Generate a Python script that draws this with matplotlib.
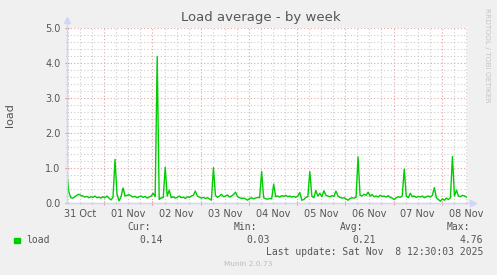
import datetime as dt
import matplotlib
matplotlib.use("Agg")
from matplotlib import pyplot as plt
import matplotlib.dates as mdates
from matplotlib.ticker import MultipleLocator

# hourly load averages, starting Oct 31 05:20
start = dt.datetime(2025, 10, 31, 5, 20)
load = [
    0.90, 0.32, 0.15, 0.14, 0.18, 0.22, 0.25, 0.22, 0.20, 0.17, 0.19, 0.15, 0.18, 0.16, 0.20, 0.15, 0.17, 0.14, 0.18, 0.15, 0.20, 0.14, 0.09, 0.16,
    1.25, 0.25, 0.06, 0.18, 0.43, 0.20, 0.22, 0.24, 0.20, 0.17, 0.19, 0.15, 0.18, 0.20, 0.16, 0.19, 0.14, 0.17, 0.20, 0.28, 0.18, 4.19, 0.10, 0.15,
    0.15, 1.02, 0.20, 0.37, 0.15, 0.18, 0.14, 0.16, 0.20, 0.15, 0.17, 0.13, 0.18, 0.16, 0.20, 0.22, 0.34, 0.20, 0.17, 0.14, 0.16, 0.13, 0.15, 0.12,
    0.08, 1.01, 0.22, 0.16, 0.20, 0.25, 0.18, 0.20, 0.23, 0.17, 0.20, 0.24, 0.31, 0.18, 0.15, 0.13, 0.14, 0.12, 0.08, 0.13, 0.15, 0.12, 0.14, 0.16,
    0.15, 0.90, 0.15, 0.12, 0.11, 0.13, 0.12, 0.54, 0.18, 0.20, 0.17, 0.21, 0.19, 0.22, 0.18, 0.20, 0.17, 0.19, 0.16, 0.20, 0.30, 0.08, 0.10, 0.16,
    0.18, 0.90, 0.20, 0.15, 0.36, 0.20, 0.28, 0.18, 0.35, 0.22, 0.20, 0.18, 0.21, 0.19, 0.34, 0.20, 0.16, 0.14, 0.15, 0.12, 0.08, 0.13, 0.15, 0.14,
    0.16, 1.32, 0.22, 0.20, 0.25, 0.22, 0.31, 0.20, 0.24, 0.18, 0.20, 0.17, 0.22, 0.19, 0.20, 0.17, 0.21, 0.16, 0.14, 0.10, 0.15, 0.18, 0.16, 0.20,
    0.97, 0.20, 0.15, 0.28, 0.18, 0.20, 0.16, 0.19, 0.17, 0.20, 0.15, 0.18, 0.20, 0.17, 0.22, 0.44, 0.15, 0.10, 0.05, 0.12, 0.08, 0.14, 0.10, 0.15,
    1.33, 0.20, 0.37, 0.20, 0.18, 0.22, 0.20, 0.17,
]
times = [start + dt.timedelta(hours=i) for i in range(len(load))]

day_labels = ["31 Oct", "01 Nov", "02 Nov", "03 Nov", "04 Nov", "05 Nov", "06 Nov", "07 Nov", "08 Nov"]
label_days = [dt.datetime(2025, 10, 31, 12) + dt.timedelta(days=i) for i in range(len(day_labels))]

series = "load"
cur, vmin, avg, vmax = "0.14", "0.03", "0.21", "4.76"
last_update = "Last update: Sat Nov  8 12:30:03 2025"

W, H = 497, 275
FONT = "#555555"
AXIS = "#CFD6F8"


def px(x, y):
    return x / W, 1 - y / H


fig = plt.figure(figsize=(W / 100, H / 100), dpi=100, facecolor="#F0F0F0")
ax = fig.add_axes([66.7 / W, 1 - 203 / H, 400.3 / W, 174.7 / H])
ax.set_facecolor("white")

ax.plot(times, load, color="#00CC00", lw=1.0, zorder=3)

ax.set_xlim(dt.datetime(2025, 10, 31, 5, 17), dt.datetime(2025, 11, 8, 12, 35))
ax.set_ylim(0, 5)

ax.xaxis.set_major_locator(mdates.DayLocator())
ax.xaxis.set_minor_locator(mdates.HourLocator(byhour=[6, 12, 18]))
ax.xaxis.set_major_formatter(plt.NullFormatter())
ax.yaxis.set_major_locator(MultipleLocator(1.0))
ax.yaxis.set_minor_locator(MultipleLocator(0.2))
ax.yaxis.set_major_formatter(plt.FormatStrFormatter("%.1f"))

ax.grid(which="minor", color="#CDCDCD", lw=0.8, ls=(0, (1, 2)), zorder=1)
ax.grid(which="major", color="#E6A3A3", lw=0.8, ls=(0, (1, 2)), zorder=2)

ax.tick_params(which="major", length=3, width=0.8, color="#E09090", direction="inout",
               labelsize=7, labelcolor=FONT, pad=3)
ax.tick_params(which="minor", length=2, width=0.8, color="#BBBBBB", direction="inout")

for s in ax.spines.values():
    s.set_visible(False)

# axes with arrows
ax.plot([0, 0], [0, 1.04], transform=ax.transAxes, color=AXIS, lw=1, clip_on=False, zorder=4)
ax.plot([0, 1.012], [0, 0], transform=ax.transAxes, color=AXIS, lw=1, clip_on=False, zorder=4)
ax.plot([0], [1.045], transform=ax.transAxes, marker="^", ms=4, color=AXIS, clip_on=False)
ax.plot([1.015], [0], transform=ax.transAxes, marker=">", ms=4, color=AXIS, clip_on=False)

tr = ax.get_xaxis_transform()
for d, lab in zip(label_days, day_labels):
    ax.text(d, -0.035, lab, transform=tr, ha="center", va="top", fontsize=7, color=FONT)

fig.text(*px(10, 115), "load", rotation=90, ha="center", va="center", fontsize=8, color=FONT)

fig.text(*px(261, 18), "Load average - by week", ha="center", va="center", fontsize=9.5, color=FONT)
fig.text(*px(487, 8), "RRDTOOL / TOBI OETIKER", ha="center", va="top", rotation=270,
         fontsize=5.3, color="#C4C4C4")

mono = "DejaVu Sans Mono"
fig.patches.append(plt.Rectangle(px(14, 242.7), 6 / W, 5 / H, transform=fig.transFigure,
                                 color="#00CC00"))
fig.text(*px(26.5, 240), series, ha="left", va="center", fontsize=7, color=FONT, family=mono)
for head, val, hx, vx in [("Cur:", cur, 150.7, 163), ("Min:", vmin, 257, 269.5),
                          ("Avg:", avg, 363, 376), ("Max:", vmax, 470, 483)]:
    fig.text(*px(hx, 227.5), head, ha="right", va="center", fontsize=7, color=FONT, family=mono)
    fig.text(*px(vx, 240), val, ha="right", va="center", fontsize=7, color=FONT, family=mono)
fig.text(*px(483, 252), last_update, ha="right", va="center", fontsize=7, color=FONT, family=mono)
fig.text(*px(248, 264), "Munin 2.0.73", ha="center", va="center", fontsize=5.3, color="#BBBBBB")

fig.savefig("out.png", dpi=100, facecolor=fig.get_facecolor())
